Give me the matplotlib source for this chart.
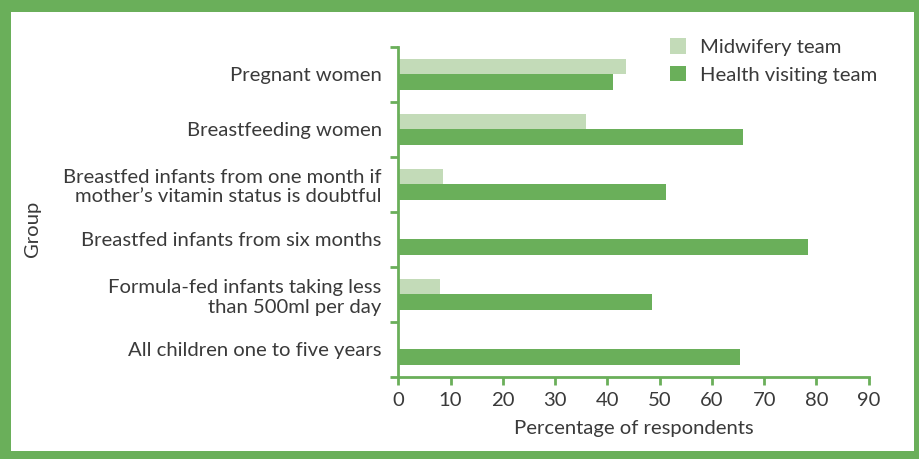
import matplotlib.pyplot as plt
import matplotlib.patches as mpatches
import numpy as np

plt.rcParams['font.family'] = ['Lato', 'DejaVu Sans']

groups = ['Pregnant women',
          'Breastfeeding women',
          'Breastfed infants from one month if\nmother\u2019s vitamin status is doubtful',
          'Breastfed infants from six months',
          'Formula-fed infants taking less\nthan 500ml per day',
          'All children one to five years']
midwifery = [43.5, 36, 8.5, 0, 8, 0]
health_visiting = [41, 66, 51.2, 78.4, 48.5, 65.4]
xticks = [0, 10, 20, 30, 40, 50, 60, 70, 80, 90]

dark = '#6aaf5a'
light = '#c3dbb8'
txt = '#3a3a3a'
fs = 14.6

fig = plt.figure(figsize=(9.19, 4.59), dpi=100)
# green frame
fig.patch.set_facecolor(dark)
fig.patches.append(mpatches.Rectangle((11 / 919, 8 / 459), (914 - 11) / 919, (447 - 8) / 459,
                                      transform=fig.transFigure, facecolor='white',
                                      edgecolor='none', zorder=-5))

ax = fig.add_axes([398.3 / 919, 1 - 376.7 / 459, 470.4 / 919, 330 / 459])
ax.set_zorder(2)
ax.set_facecolor('none')

y = np.arange(len(groups))
h = 0.28
ax.barh(y - 0.14, midwifery, height=h, color=light, label='Midwifery team')
ax.barh(y + 0.14, health_visiting, height=h, color=dark, label='Health visiting team')

ax.set_xlim(0, 90)
ax.set_ylim(len(groups) - 0.5, -0.5)
ax.set_xticks(xticks)
ax.set_yticks(y)
ax.set_yticklabels(groups)
ax.set_yticks(np.arange(len(groups) + 1) - 0.5, minor=True)

for s in ['top', 'right']:
    ax.spines[s].set_visible(False)
for s in ['left', 'bottom']:
    ax.spines[s].set_color(dark)
    ax.spines[s].set_linewidth(2)

ax.tick_params(axis='y', which='major', length=0, pad=12, labelsize=fs, labelcolor=txt)
ax.tick_params(axis='y', which='minor', length=6, width=2, color=dark)
ax.tick_params(axis='x', length=6, width=2, color=dark, labelsize=fs, labelcolor=txt, pad=5)

ax.set_xlabel('Percentage of respondents', fontsize=fs, color=txt, labelpad=8)
fig.text(33 / 919, 1 - 229 / 459, 'Group', rotation=90, fontsize=fs, color=txt,
         ha='center', va='center')

fig.legend(loc='upper left', bbox_to_anchor=(670 / 919, 1 - 38 / 459), frameon=False,
           fontsize=fs, labelcolor=txt, handlelength=0.8, handleheight=0.8,
           handletextpad=0.7, labelspacing=0.5, borderpad=0, borderaxespad=0)

fig.savefig('out.png', dpi=100, facecolor=fig.get_facecolor())
